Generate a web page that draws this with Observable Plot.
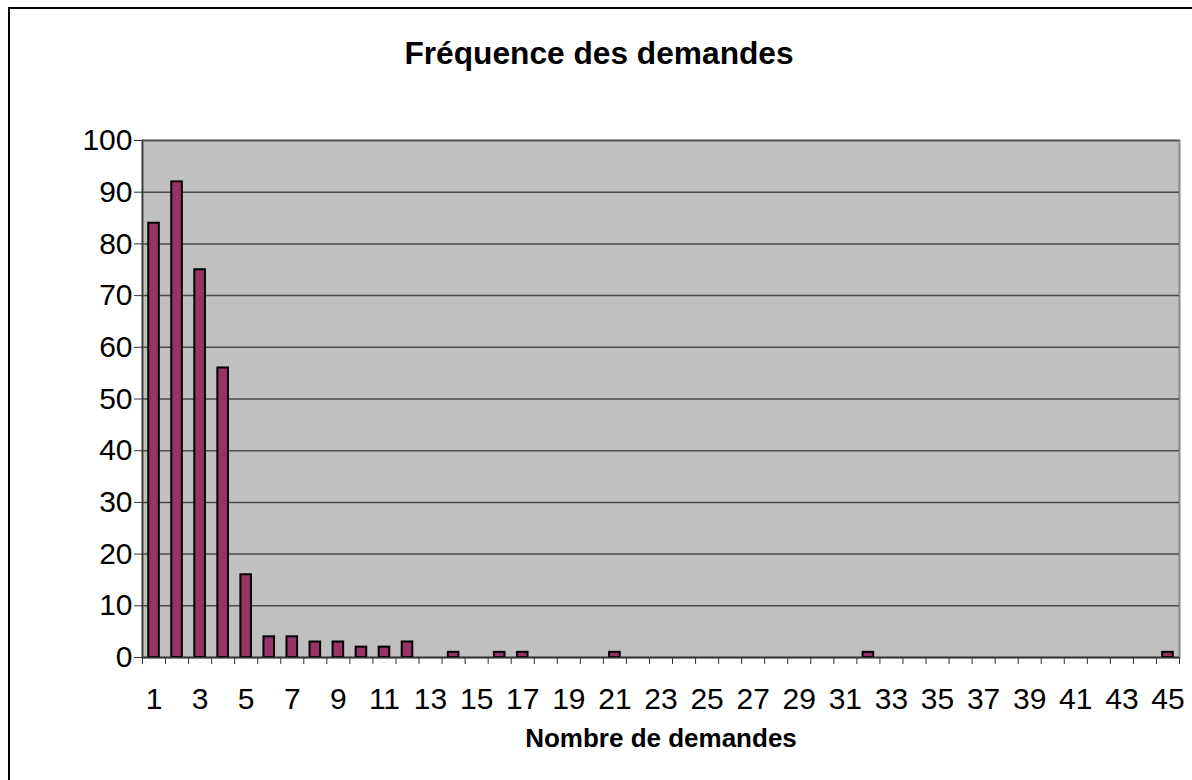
<!DOCTYPE html>
<html>
<head>
<meta charset="utf-8">
<script src="https://cdn.jsdelivr.net/npm/d3@7"></script>
<script src="https://cdn.jsdelivr.net/npm/@observablehq/plot@0.6"></script>
<style>
  html, body { margin: 0; padding: 0; background: #fff; overflow: hidden; }
  #wrap { position: relative; width: 1192px; height: 780px; overflow: hidden; font-family: "Liberation Sans", Arial, sans-serif; }
  #border { position: absolute; left: 8px; top: 7px; width: 1200px; height: 800px; border: 2px solid #000; box-sizing: border-box; }
  #title { position: absolute; left: 0; width: 1198px; top: 38px; text-align: center; font-weight: bold; font-size: 31.7px; line-height: 1; color: #000; }
  #xlabel { position: absolute; left: 0; width: 1322px; top: 725px; text-align: center; font-weight: bold; font-size: 26px; line-height: 1; color: #000; }
  #chart { position: absolute; left: 0; top: 0; }
</style>
</head>
<body>
<div id="wrap">
  <div id="border"></div>
  <div id="chart"></div>
  <div id="title">Fréquence des demandes</div>
  <div id="xlabel">Nombre de demandes</div>
</div>
<script>
const categories = [1,2,3,4,5,6,7,8,9,10,11,12,13,14,15,16,17,18,19,20,21,22,23,24,25,26,27,28,29,30,31,32,33,34,35,36,37,38,39,40,41,42,43,44,45];
const frequencies = [84,92,75,56,16,4,4,3,3,2,2,3,0,1,0,1,1,0,0,0,1,0,0,0,0,0,0,0,0,0,0,1,0,0,0,0,0,0,0,0,0,0,0,0,1];
const yTicks = [0,10,20,30,40,50,60,70,80,90,100];
const xTickLabels = [1,3,5,7,9,11,13,15,17,19,21,23,25,27,29,31,33,35,37,39,41,43,45];

const data = categories.map((c, i) => ({n: c, v: frequencies[i]}));
const barData = data.filter(d => d.v > 0);
const boundaries = categories.map(c => c - 0.5).concat([categories[categories.length - 1] + 0.5]);
const half = 0.23;

const chart = Plot.plot({
  width: 1192,
  height: 780,
  marginLeft: 142,
  marginRight: 13,
  marginTop: 140,
  marginBottom: 123,
  style: { fontFamily: "'Liberation Sans', Arial, sans-serif", background: "transparent", color: "#000" },
  x: { type: "linear", domain: [0.5, 45.5] },
  y: { domain: [0, 100] },
  marks: [
    Plot.frame({ fill: "#c0c0c0", stroke: "#888", strokeWidth: 2 }),
    Plot.gridY(yTicks, { stroke: "#4a4a4a", strokeOpacity: 1, strokeWidth: 1.5 }),
    Plot.rectY(barData, { x1: d => d.n - half, x2: d => d.n + half, y: "v", fill: "#993366", stroke: "#000", strokeWidth: 2 }),
    Plot.ruleX([0.5], { stroke: "#333", strokeWidth: 1.5 }),
    Plot.ruleY([0], { stroke: "#333", strokeWidth: 1.5 }),
    Plot.axisY({ ticks: yTicks, tickSize: 8, tickPadding: 2, fontSize: 30, stroke: "#333", label: null }),
    Plot.axisX({ ticks: boundaries, tickSize: 7, tickFormat: () => "", stroke: "#333", label: null }),
    Plot.axisX({ ticks: xTickLabels, tickSize: 0, tickPadding: 30, fontSize: 30, label: null, tickFormat: d => String(d) })
  ]
});
document.getElementById("chart").appendChild(chart);
</script>
</body>
</html>
